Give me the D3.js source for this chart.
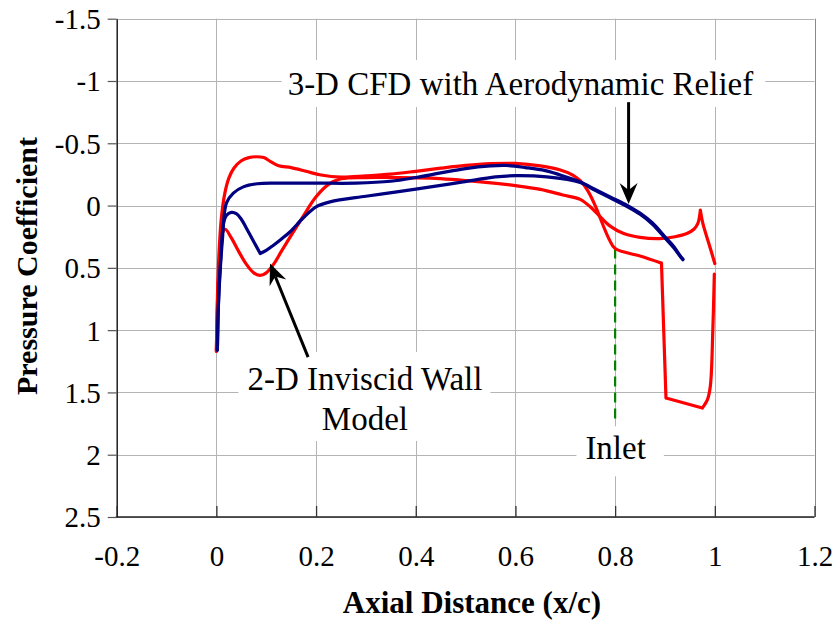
<!DOCTYPE html>
<html>
<head>
<meta charset="utf-8">
<script src="https://cdn.jsdelivr.net/npm/d3@7"></script>
<style>
  html, body { margin: 0; padding: 0; background: #fff; }
  svg { display: block; }
  svg text { font-family: "Liberation Serif", "Times New Roman", "DejaVu Serif", serif; fill: #000; }
</style>
</head>
<body>
<svg id="chart" width="839" height="623"></svg>
<script>
// ---- data: axial distance x/c vs. pressure coefficient ----
const xTicks = [-0.2, 0, 0.2, 0.4, 0.6, 0.8, 1, 1.2];
const yTicks = [-1.5, -1, -0.5, 0, 0.5, 1, 1.5, 2, 2.5];

// 2-D inviscid wall model, surface with the leading-edge suction peak
const inviscidUpper = [
  [0, 1.17], [0.002, 0.75], [0.005, 0.4], [0.01, 0.1], [0.017, -0.1], [0.025, -0.22],
  [0.035, -0.3], [0.05, -0.36], [0.065, -0.385], [0.08, -0.392], [0.095, -0.385],
  [0.108, -0.355], [0.125, -0.32], [0.15, -0.305], [0.18, -0.275], [0.21, -0.245],
  [0.25, -0.228], [0.3, -0.238], [0.35, -0.252], [0.4, -0.275], [0.45, -0.3],
  [0.5, -0.322], [0.55, -0.336], [0.6, -0.338], [0.65, -0.318], [0.69, -0.285],
  [0.715, -0.245], [0.73, -0.2], [0.745, -0.12], [0.76, 0.0], [0.775, 0.15],
  [0.788, 0.27], [0.8, 0.345], [0.85, 0.405], [0.893, 0.462],
  [0.902, 1.545], [0.975, 1.625], [0.985, 1.56],
  [0.991, 1.45], [0.996, 1.0], [0.999, 0.55]
];
// indices where this surface has a sharp corner
const inviscidUpperCorners = [34, 35, 36];

// 2-D inviscid wall model, opposite surface
const inviscidLower = [
  [0, 1.17], [0.003, 0.7], [0.007, 0.4], [0.012, 0.22], [0.018, 0.19], [0.03, 0.26],
  [0.045, 0.37], [0.06, 0.47], [0.075, 0.54], [0.088, 0.56], [0.1, 0.54],
  [0.115, 0.47], [0.13, 0.37], [0.15, 0.24], [0.175, 0.08], [0.2, -0.07],
  [0.225, -0.17], [0.25, -0.215], [0.3, -0.225], [0.35, -0.225], [0.43, -0.22],
  [0.53, -0.19], [0.6, -0.16], [0.65, -0.13], [0.695, -0.085], [0.73, -0.05],
  [0.75, 0.01], [0.77, 0.09], [0.79, 0.165], [0.816, 0.222], [0.85, 0.255],
  [0.89, 0.265], [0.92, 0.25], [0.944, 0.224], [0.958, 0.19], [0.966, 0.143],
  [0.971, 0.037], [0.976, 0.143], [0.99, 0.33], [1.0, 0.465]
];
const inviscidLowerCorners = [36];

// 3-D CFD with aerodynamic relief, suction surface
const cfdUpper = [
  [0.002, 1.16], [0.004, 0.8], [0.008, 0.5], [0.012, 0.28], [0.02, -0.02],
  [0.034, -0.1], [0.054, -0.15], [0.082, -0.175], [0.12, -0.18], [0.2, -0.18],
  [0.28, -0.18], [0.35, -0.195], [0.4, -0.225], [0.45, -0.262], [0.5, -0.297],
  [0.55, -0.318], [0.58, -0.322], [0.62, -0.305], [0.66, -0.28], [0.7, -0.232],
  [0.73, -0.19], [0.76, -0.13], [0.79, -0.07], [0.825, 0.0], [0.85, 0.06],
  [0.875, 0.14], [0.9, 0.25], [0.918, 0.33], [0.93, 0.4], [0.936, 0.43]
];
const cfdUpperCorners = [];

// 3-D CFD with aerodynamic relief, pressure surface
const cfdLower = [
  [0.002, 1.16], [0.005, 0.7], [0.009, 0.4], [0.014, 0.15], [0.02, 0.08],
  [0.03, 0.055], [0.04, 0.065], [0.05, 0.11], [0.06, 0.18], [0.075, 0.29],
  [0.088, 0.385], [0.1, 0.36], [0.114, 0.32], [0.13, 0.27], [0.148, 0.21],
  [0.174, 0.1], [0.2, 0.01], [0.228, -0.03], [0.3, -0.075], [0.362, -0.11],
  [0.43, -0.15], [0.495, -0.19], [0.56, -0.23], [0.6, -0.24], [0.663, -0.23],
  [0.73, -0.185], [0.76, -0.122], [0.79, -0.062], [0.825, 0.01], [0.85, 0.07],
  [0.875, 0.15], [0.9, 0.26], [0.918, 0.34], [0.93, 0.405], [0.936, 0.435]
];
const cfdLowerCorners = [10];

// inlet station marker
const inletX = 0.8;
const inletRange = [0.345, 1.74];

// ---- layout ----
const svg = d3.select("#chart");
const plot = { left: 116.7, right: 814.5, top: 18.7, bottom: 517 };
const serif = '"Liberation Serif", "Times New Roman", serif';

const x = d3.scaleLinear().domain([-0.2, 1.2]).range([plot.left, plot.right]);
const y = d3.scaleLinear().domain([-1.5, 2.5]).range([plot.top, plot.bottom]);

const gridColor = "#b4b4b4";

// gridlines
const grid = svg.append("g");
grid.selectAll("line.h").data(yTicks).join("line")
  .attr("x1", plot.left).attr("x2", plot.right)
  .attr("y1", d => Math.round(y(d)) + 0.5).attr("y2", d => Math.round(y(d)) + 0.5)
  .attr("stroke", gridColor).attr("stroke-width", 1);
grid.selectAll("line.v").data(xTicks).join("line")
  .attr("x1", d => Math.round(x(d)) + 0.5).attr("x2", d => Math.round(x(d)) + 0.5)
  .attr("y1", plot.top).attr("y2", plot.bottom)
  .attr("stroke", d => d === 1.2 ? "#8a8a8a" : gridColor).attr("stroke-width", 1);

// curves: smooth runs joined at sharp corners
const smooth = d3.line()
  .x(d => x(d[0])).y(d => y(d[1]))
  .curve(d3.curveCatmullRom.alpha(0.5));

function cornerPath(data, corners) {
  const cuts = [0, ...corners, data.length - 1];
  let d = "";
  for (let i = 0; i < cuts.length - 1; i++) {
    const seg = smooth(data.slice(cuts[i], cuts[i + 1] + 1));
    d += i === 0 ? seg : seg.replace(/^M[^A-Za-z]*/, "L" + x(data[cuts[i]][0]) + "," + y(data[cuts[i]][1]));
  }
  return d;
}

const series = [
  { data: inviscidUpper, corners: inviscidUpperCorners, color: "#ff0000" },
  { data: inviscidLower, corners: inviscidLowerCorners, color: "#ff0000" },
  { data: cfdLower, corners: cfdLowerCorners, color: "#000080" },
  { data: cfdUpper, corners: cfdUpperCorners, color: "#000080" }
];

// inlet marker line
svg.append("line")
  .attr("x1", x(inletX)).attr("x2", x(inletX))
  .attr("y1", y(inletRange[0])).attr("y2", y(inletRange[1]))
  .attr("stroke", "#008000").attr("stroke-width", 2.2)
  .attr("stroke-dasharray", "10,6");

svg.append("g").selectAll("path").data(series).join("path")
  .attr("d", d => cornerPath(d.data, d.corners))
  .attr("fill", "none")
  .attr("stroke", d => d.color)
  .attr("stroke-width", 3.2)
  .attr("stroke-linejoin", "round")
  .attr("stroke-linecap", "round");

// axes
const fontTick = 29;
const xAxis = d3.axisBottom(x).tickValues(xTicks).tickFormat(d => String(d))
  .tickSizeInner(-11).tickSizeOuter(0);
const gx = svg.append("g").attr("transform", `translate(0,${plot.bottom})`).call(xAxis)
  .attr("font-family", serif).attr("font-size", fontTick);
gx.select(".domain").attr("stroke", "#222").attr("stroke-width", 1.5)
  .attr("d", `M${plot.left - 1},0H${plot.right}`);
gx.selectAll(".tick line").attr("stroke", "#333").attr("stroke-width", 1.3);
gx.selectAll(".tick text").attr("y", 49).attr("dy", 0).attr("fill", "#000");

const yAxis = d3.axisLeft(y).tickValues(yTicks).tickFormat(d => String(d))
  .tickSizeInner(9).tickSizeOuter(0).tickPadding(7);
const gy = svg.append("g").attr("transform", `translate(${plot.left},0)`).call(yAxis)
  .attr("font-family", serif).attr("font-size", fontTick);
gy.select(".domain").attr("stroke", "#222").attr("stroke-width", 1.5);
gy.selectAll(".tick line").attr("stroke", "#555").attr("stroke-width", 1.2);
gy.selectAll(".tick text").attr("dy", "0.34em").attr("fill", "#000");

// axis titles
svg.append("text")
  .attr("x", 472).attr("y", 613)
  .attr("text-anchor", "middle")
  .style("font-size", "31px").style("font-weight", "bold")
  .text("Axial Distance (x/c)");

svg.append("text")
  .attr("transform", "translate(37,266) rotate(-90)")
  .attr("text-anchor", "middle")
  .style("font-size", "30px").style("font-weight", "bold")
  .text("Pressure Coefficient");

// annotations with white label boxes
const fontNote = 33;
function label(lines, cx, baseline, lineGap, pad) {
  const g = svg.append("g");
  const rect = g.append("rect").attr("fill", "#fff");
  const t = g.append("text").attr("text-anchor", "middle").style("font-size", fontNote + "px");
  lines.forEach((s, i) => {
    t.append("tspan").attr("x", x(cx)).attr("y", y(baseline) + i * lineGap).text(s);
  });
  const b = t.node().getBBox();
  rect.attr("x", b.x - pad[3]).attr("y", b.y - pad[0])
    .attr("width", b.width + pad[1] + pad[3]).attr("height", b.height + pad[0] + pad[2]);
}

label(["3-D CFD with Aerodynamic Relief"], 0.61, -0.887, 0, [6, 12, 5, 6]);
label(["2-D Inviscid Wall", "Model"], 0.298, 1.48, 40, [9, 8, 4, 9]);
label(["Inlet"], 0.801, 2.037, 0, [4, 18, 10, 9]);

// arrows (stealth-style heads)
function arrow(from, to) {
  const x0 = x(from[0]), y0 = y(from[1]), x1 = x(to[0]), y1 = y(to[1]);
  const ang = Math.atan2(y1 - y0, x1 - x0);
  const L = 21, W = 9, notch = 14;
  const ux = Math.cos(ang), uy = Math.sin(ang);
  const px = -uy, py = ux;
  const bx = x1 - ux * L, by = y1 - uy * L;
  const nx = x1 - ux * notch, ny = y1 - uy * notch;
  svg.append("line")
    .attr("x1", x0).attr("y1", y0).attr("x2", nx).attr("y2", ny)
    .attr("stroke", "#000").attr("stroke-width", 3);
  svg.append("path")
    .attr("d", `M${x1},${y1}L${bx + px * W},${by + py * W}L${nx},${ny}L${bx - px * W},${by - py * W}Z`)
    .attr("fill", "#000");
}
arrow([0.827, -0.83], [0.827, -0.012]);
arrow([0.184, 1.217], [0.1076, 0.465]);
</script>
</body>
</html>
